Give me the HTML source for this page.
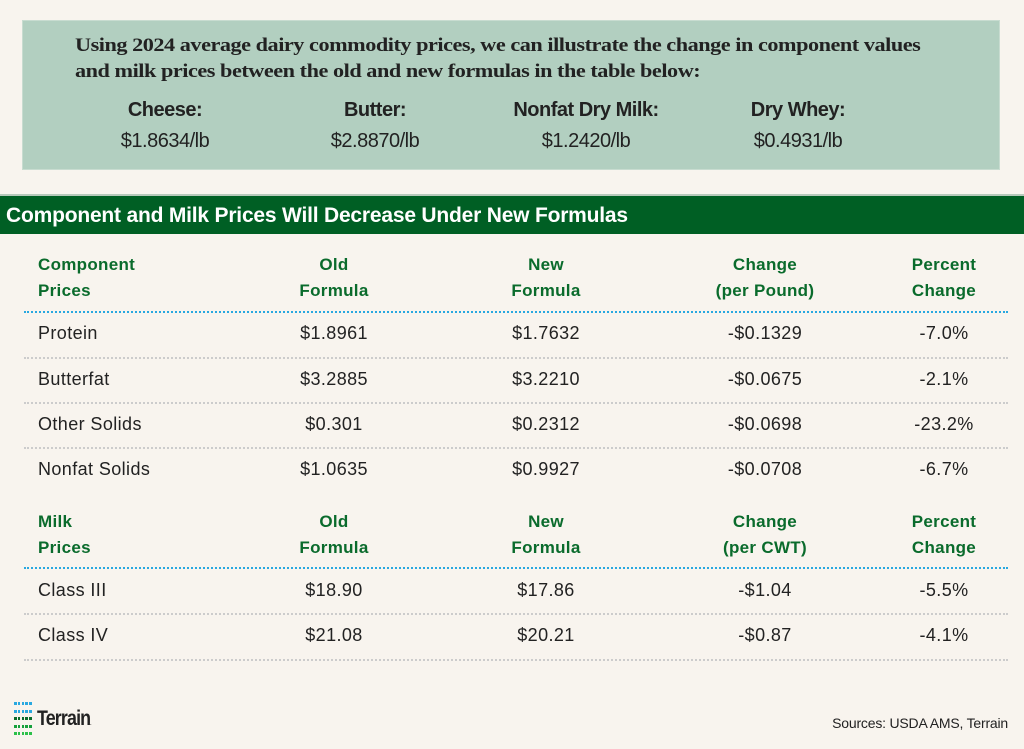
<!DOCTYPE html>
<html><head><style>
html,body{margin:0;width:1024px;height:749px;overflow:hidden}
body{background:#f8f4ee;position:relative;font-family:"Liberation Sans",sans-serif}
.box{position:absolute;left:22px;top:20px;width:978px;height:150px;background:#b2cfc0;border:1px solid #c8dcd0;box-sizing:border-box}
.intro{position:absolute;left:75px;top:33px;font-family:"Liberation Serif",serif;font-weight:bold;font-size:19px;line-height:26px;color:#222;letter-spacing:-0.4px;transform:scaleX(1.17);transform-origin:left top;white-space:nowrap}
.pr{position:absolute;top:95px;width:200px;text-align:center;color:#222;font-size:20px;line-height:31px;letter-spacing:-0.5px}
.pr b{display:block}
.banner{position:absolute;left:0;top:194px;width:1024px;height:40px;background:#005f24;border-top:2px solid #b6c9bb;box-sizing:border-box}
.banner span{position:absolute;left:6px;top:8px;color:#fff;font-weight:bold;font-size:21px;letter-spacing:-0.2px}
.t{position:absolute;font-size:18px;color:#222;letter-spacing:0.4px;font-weight:500}
.h{position:absolute;font-size:17px;font-weight:bold;color:#0a6b2c;line-height:26px;letter-spacing:0.3px}
.c{text-align:center;width:200px}
.line{position:absolute;left:24px;width:984px;height:0;border-top:2px dotted #ccc}
.blue{border-top:2px dotted #29a8e0}
.dots{position:absolute;left:14px;top:702px;display:grid;grid-template-columns:repeat(5,2.5px);grid-auto-rows:3px;column-gap:1.3px;row-gap:4.5px}
.dots i{display:block}
</style></head><body>
<div class="box"></div>
<div class="intro">Using 2024 average dairy commodity prices, we can illustrate the change in component values<br>and milk prices between the old and new formulas in the table below:</div>
<div class="pr" style="left:65px"><b>Cheese:</b>$1.8634/lb</div>
<div class="pr" style="left:275px"><b>Butter:</b>$2.8870/lb</div>
<div class="pr" style="left:486px"><b>Nonfat Dry Milk:</b>$1.2420/lb</div>
<div class="pr" style="left:698px"><b>Dry Whey:</b>$0.4931/lb</div>
<div class="banner"><span>Component and Milk Prices Will Decrease Under New Formulas</span></div>

<div class="h" style="left:38px;top:252px">Component<br>Prices</div>
<div class="h c" style="left:234px;top:252px">Old<br>Formula</div>
<div class="h c" style="left:446px;top:252px">New<br>Formula</div>
<div class="h c" style="left:665px;top:252px">Change<br>(per Pound)</div>
<div class="h c" style="left:844px;top:252px">Percent<br>Change</div>
<div class="line blue" style="top:311px"></div>

<div class="t" style="left:38px;top:323px">Protein</div><div class="t c" style="left:234px;top:323px">$1.8961</div><div class="t c" style="left:446px;top:323px">$1.7632</div><div class="t c" style="left:665px;top:323px">-$0.1329</div><div class="t c" style="left:844px;top:323px">-7.0%</div>
<div class="line" style="top:357px"></div>
<div class="t" style="left:38px;top:369px">Butterfat</div><div class="t c" style="left:234px;top:369px">$3.2885</div><div class="t c" style="left:446px;top:369px">$3.2210</div><div class="t c" style="left:665px;top:369px">-$0.0675</div><div class="t c" style="left:844px;top:369px">-2.1%</div>
<div class="line" style="top:402px"></div>
<div class="t" style="left:38px;top:414px">Other Solids</div><div class="t c" style="left:234px;top:414px">$0.301</div><div class="t c" style="left:446px;top:414px">$0.2312</div><div class="t c" style="left:665px;top:414px">-$0.0698</div><div class="t c" style="left:844px;top:414px">-23.2%</div>
<div class="line" style="top:447px"></div>
<div class="t" style="left:38px;top:459px">Nonfat Solids</div><div class="t c" style="left:234px;top:459px">$1.0635</div><div class="t c" style="left:446px;top:459px">$0.9927</div><div class="t c" style="left:665px;top:459px">-$0.0708</div><div class="t c" style="left:844px;top:459px">-6.7%</div>

<div class="h" style="left:38px;top:509px">Milk<br>Prices</div>
<div class="h c" style="left:234px;top:509px">Old<br>Formula</div>
<div class="h c" style="left:446px;top:509px">New<br>Formula</div>
<div class="h c" style="left:665px;top:509px">Change<br>(per CWT)</div>
<div class="h c" style="left:844px;top:509px">Percent<br>Change</div>
<div class="line blue" style="top:567px"></div>
<div class="t" style="left:38px;top:580px">Class III</div><div class="t c" style="left:234px;top:580px">$18.90</div><div class="t c" style="left:446px;top:580px">$17.86</div><div class="t c" style="left:665px;top:580px">-$1.04</div><div class="t c" style="left:844px;top:580px">-5.5%</div>
<div class="line" style="top:613px"></div>
<div class="t" style="left:38px;top:625px">Class IV</div><div class="t c" style="left:234px;top:625px">$21.08</div><div class="t c" style="left:446px;top:625px">$20.21</div><div class="t c" style="left:665px;top:625px">-$0.87</div><div class="t c" style="left:844px;top:625px">-4.1%</div>
<div class="line" style="top:659px"></div>

<div class="dots">
<i style="background:#29a8e0"></i><i style="background:#29a8e0"></i><i style="background:#29a8e0"></i><i style="background:#29a8e0"></i><i style="background:#29a8e0"></i>
<i style="background:#29a8e0"></i><i style="background:#29a8e0"></i><i style="background:#29a8e0"></i><i style="background:#29a8e0"></i><i style="background:#29a8e0"></i>
<i style="background:#0a6b2c"></i><i style="background:#0a6b2c"></i><i style="background:#0a6b2c"></i><i style="background:#0a6b2c"></i><i style="background:#0a6b2c"></i>
<i style="background:#16a03c"></i><i style="background:#16a03c"></i><i style="background:#16a03c"></i><i style="background:#16a03c"></i><i style="background:#16a03c"></i>
<i style="background:#2cc04a"></i><i style="background:#2cc04a"></i><i style="background:#2cc04a"></i><i style="background:#2cc04a"></i><i style="background:#2cc04a"></i>
</div>
<div style="position:absolute;left:37px;top:707px;font-size:21px;font-weight:bold;color:#222;letter-spacing:-1px;transform:scaleX(0.85);transform-origin:left top">Terrain<span style="font-size:5px">.</span></div>
<div style="position:absolute;right:16px;top:715px;font-size:14px;color:#222;letter-spacing:-0.2px">Sources: USDA AMS, Terrain</div>
</body></html>
